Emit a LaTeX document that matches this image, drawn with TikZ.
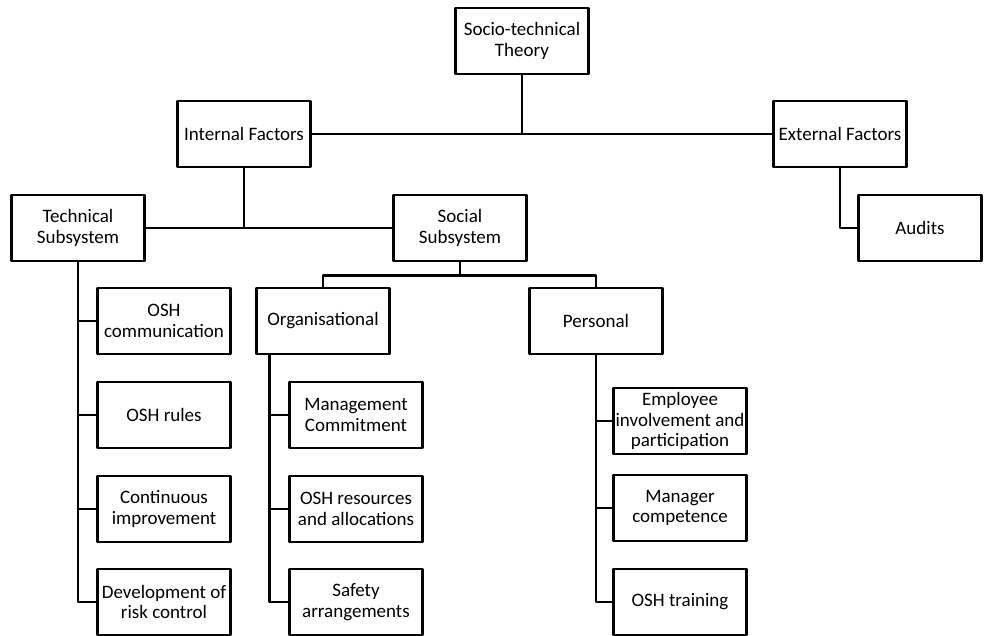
\documentclass[tikz,border=0pt]{standalone}
\usepackage{fontspec}
\setmainfont{Carlito}
\begin{document}
\begin{tikzpicture}[x=1pt,y=-1pt, line join=round, font=\fontsize{19}{20.7}\selectfont,
	box/.style={draw,line width=2.5pt,minimum width=133pt,minimum height=66pt,inner sep=0pt,align=center},
	link/.style={line width=2.5pt}]
	\useasboundingbox (0,0) rectangle (984,635);
	\path 
	(522,41) node[box] (theory) {Socio-technical\\Theory}
	(244,134) node[box] (intf) {Internal Factors}
	(840,134) node[box] (extf) {External Factors}
	(78,228) node[box] (tech) {Technical\\Subsystem}
	(460,228) node[box] (soc) {Social\\Subsystem}
	(920,228) node[box,minimum width=123pt] (audits) {Audits}
	(323,321) node[box] (org) {Organisational}
	(596,321) node[box] (pers) {Personal}
	;
	\foreach \y/\n/\txt in {321/t1/{OSH\\communication},415/t2/{OSH rules},509/t3/{Continuous\\improvement},602/t4/{Development of\\risk control}}{
		\node[box] (\n) at (164,\y) {\txt};
		\draw[link] (tech.south) |- (\n.west);
	}
	\foreach \y/\n/\txt in {415/o1/{Management\\Commitment},509/o2/{OSH resources\\and allocations},602/o3/{Safety\\arrangements}}{
		\node[box] (\n) at (356,\y) {\txt};
		\draw[link] ([xshift=14pt]org.south west) |- (\n.west);
	}
	\foreach \y/\n/\txt in {421/p1/{Employee\\involvement and\\participation},508/p2/{Manager\\competence},602/p3/{OSH training}}{
		\node[box] (\n) at (680,\y) {\txt};
		\draw[link] (pers.south) |- (\n.west);
	}
	\draw[link] (theory.south) -- (theory.south |- intf.east);
	\draw[link] (intf.east) -- (extf.west);
	\draw[link] (intf.south) -- (intf.south |- tech.east);
	\draw[link] (tech.east) -- (soc.west);
	\draw[link] (extf.south) |- (audits.west);
	\draw[link] (soc.south) -- ++(0,13) coordinate (fork);
	\draw[link] (org.north) |- (fork) -| (pers.north);
\end{tikzpicture}
\end{document}
